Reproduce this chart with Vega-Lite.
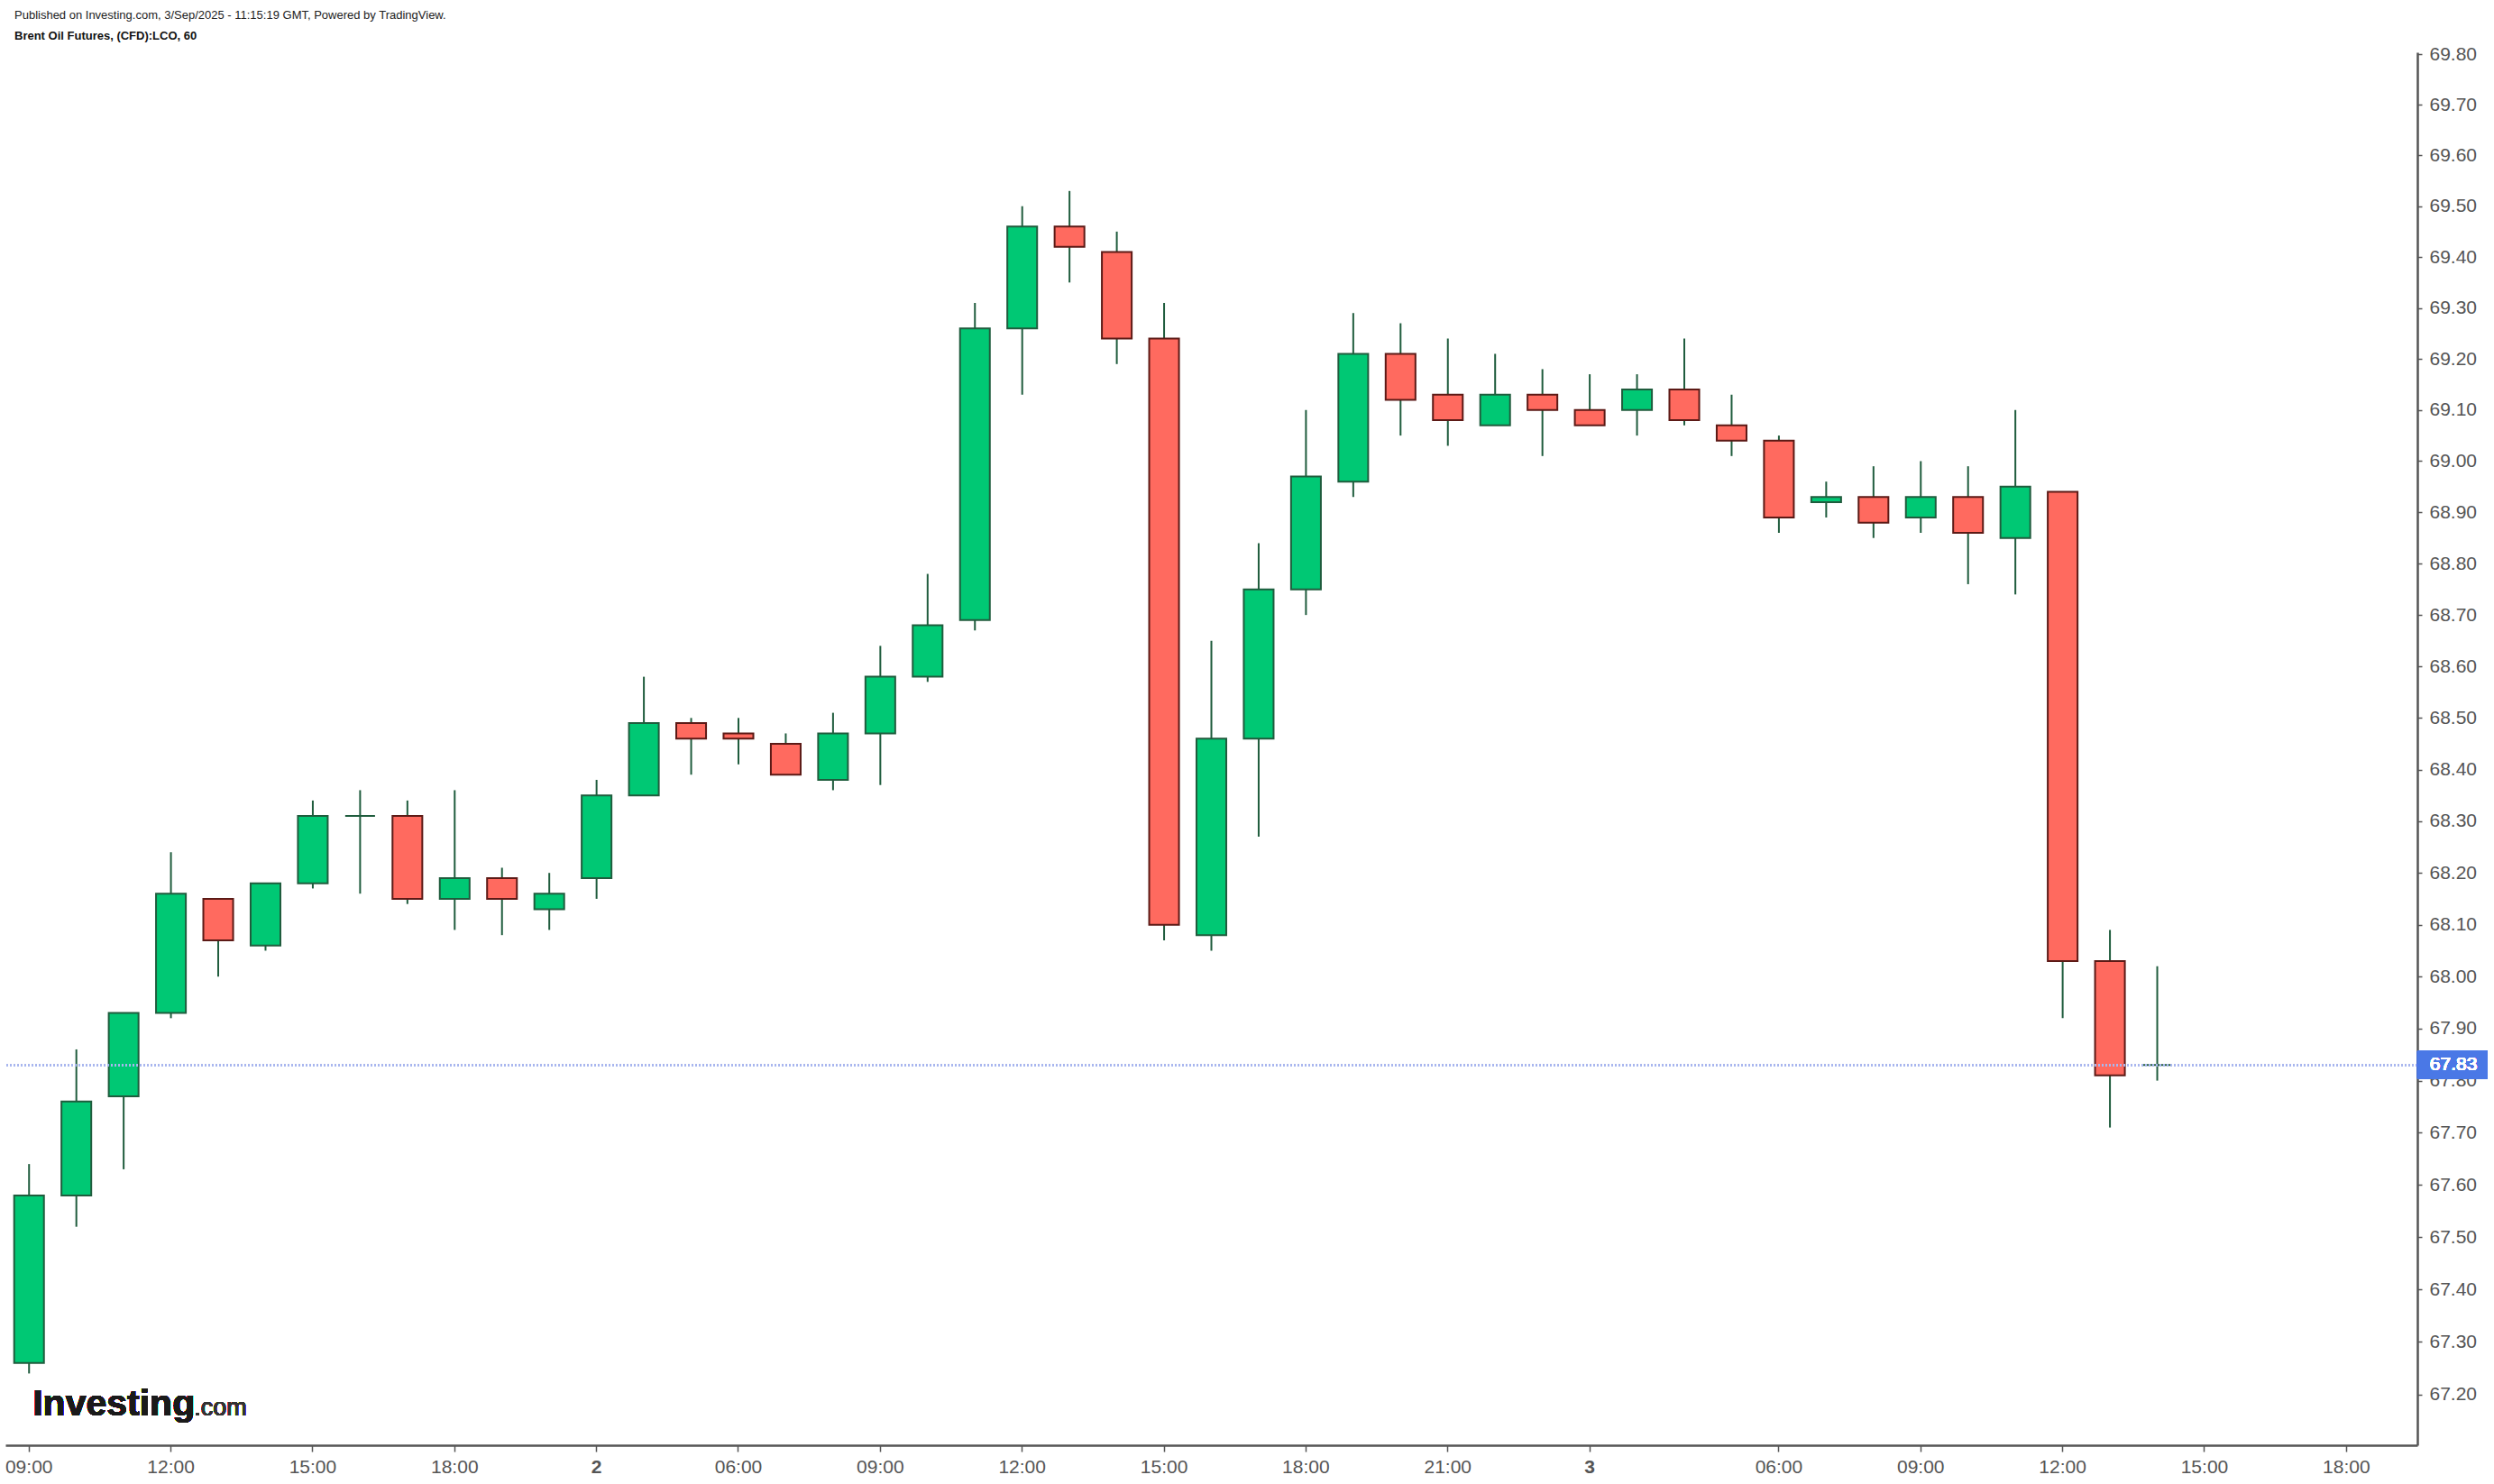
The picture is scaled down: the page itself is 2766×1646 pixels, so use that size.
{
  "$schema": "https://vega.github.io/schema/vega-lite/v6.json",
  "width": 2675,
  "height": 1545,
  "autosize": {"type": "none"},
  "padding": {"left": 6, "top": 58, "right": 85, "bottom": 43},
  "background": "white",
  "config": {"view": {"stroke": null}, "font": "Liberation Sans"},
  "title": {
    "text": "Published on Investing.com, 3/Sep/2025 - 11:15:19 GMT, Powered by TradingView.",
    "subtitle": "Brent Oil Futures, (CFD):LCO, 60",
    "anchor": "start",
    "frame": "group",
    "dx": 10,
    "offset": 2,
    "font": "Liberation Sans",
    "fontSize": 13,
    "fontWeight": "normal",
    "color": "#222222",
    "subtitleFont": "Liberation Sans",
    "subtitleFontSize": 13,
    "subtitleFontWeight": "bold",
    "subtitleColor": "#111111",
    "subtitlePadding": 10
  },
  "data": {
    "values": [
      {"t": "2025-09-01 09:00", "open": 67.26, "high": 67.64, "low": 67.24, "close": 67.58},
      {"t": "2025-09-01 10:00", "open": 67.58, "high": 67.86, "low": 67.52, "close": 67.76},
      {"t": "2025-09-01 11:00", "open": 67.77, "high": 67.93, "low": 67.63, "close": 67.93},
      {"t": "2025-09-01 12:00", "open": 67.93, "high": 68.24, "low": 67.92, "close": 68.16},
      {"t": "2025-09-01 13:00", "open": 68.15, "high": 68.15, "low": 68.00, "close": 68.07},
      {"t": "2025-09-01 14:00", "open": 68.06, "high": 68.18, "low": 68.05, "close": 68.18},
      {"t": "2025-09-01 15:00", "open": 68.18, "high": 68.34, "low": 68.17, "close": 68.31},
      {"t": "2025-09-01 16:00", "open": 68.31, "high": 68.36, "low": 68.16, "close": 68.31},
      {"t": "2025-09-01 17:00", "open": 68.31, "high": 68.34, "low": 68.14, "close": 68.15},
      {"t": "2025-09-01 18:00", "open": 68.15, "high": 68.36, "low": 68.09, "close": 68.19},
      {"t": "2025-09-01 19:00", "open": 68.19, "high": 68.21, "low": 68.08, "close": 68.15},
      {"t": "2025-09-01 20:00", "open": 68.13, "high": 68.20, "low": 68.09, "close": 68.16},
      {"t": "2025-09-02 03:00", "open": 68.19, "high": 68.38, "low": 68.15, "close": 68.35},
      {"t": "2025-09-02 04:00", "open": 68.35, "high": 68.58, "low": 68.35, "close": 68.49},
      {"t": "2025-09-02 05:00", "open": 68.49, "high": 68.50, "low": 68.39, "close": 68.46},
      {"t": "2025-09-02 06:00", "open": 68.47, "high": 68.50, "low": 68.41, "close": 68.46},
      {"t": "2025-09-02 07:00", "open": 68.45, "high": 68.47, "low": 68.39, "close": 68.39},
      {"t": "2025-09-02 08:00", "open": 68.38, "high": 68.51, "low": 68.36, "close": 68.47},
      {"t": "2025-09-02 09:00", "open": 68.47, "high": 68.64, "low": 68.37, "close": 68.58},
      {"t": "2025-09-02 10:00", "open": 68.58, "high": 68.78, "low": 68.57, "close": 68.68},
      {"t": "2025-09-02 11:00", "open": 68.69, "high": 69.31, "low": 68.67, "close": 69.26},
      {"t": "2025-09-02 12:00", "open": 69.26, "high": 69.50, "low": 69.13, "close": 69.46},
      {"t": "2025-09-02 13:00", "open": 69.46, "high": 69.53, "low": 69.35, "close": 69.42},
      {"t": "2025-09-02 14:00", "open": 69.41, "high": 69.45, "low": 69.19, "close": 69.24},
      {"t": "2025-09-02 15:00", "open": 69.24, "high": 69.31, "low": 68.07, "close": 68.10},
      {"t": "2025-09-02 16:00", "open": 68.08, "high": 68.65, "low": 68.05, "close": 68.46},
      {"t": "2025-09-02 17:00", "open": 68.46, "high": 68.84, "low": 68.27, "close": 68.75},
      {"t": "2025-09-02 18:00", "open": 68.75, "high": 69.10, "low": 68.70, "close": 68.97},
      {"t": "2025-09-02 19:00", "open": 68.96, "high": 69.29, "low": 68.93, "close": 69.21},
      {"t": "2025-09-02 20:00", "open": 69.21, "high": 69.27, "low": 69.05, "close": 69.12},
      {"t": "2025-09-02 21:00", "open": 69.13, "high": 69.24, "low": 69.03, "close": 69.08},
      {"t": "2025-09-02 22:00", "open": 69.07, "high": 69.21, "low": 69.07, "close": 69.13},
      {"t": "2025-09-02 23:00", "open": 69.13, "high": 69.18, "low": 69.01, "close": 69.10},
      {"t": "2025-09-03 02:00", "open": 69.10, "high": 69.17, "low": 69.07, "close": 69.07},
      {"t": "2025-09-03 03:00", "open": 69.10, "high": 69.17, "low": 69.05, "close": 69.14},
      {"t": "2025-09-03 04:00", "open": 69.14, "high": 69.24, "low": 69.07, "close": 69.08},
      {"t": "2025-09-03 05:00", "open": 69.07, "high": 69.13, "low": 69.01, "close": 69.04},
      {"t": "2025-09-03 06:00", "open": 69.04, "high": 69.05, "low": 68.86, "close": 68.89},
      {"t": "2025-09-03 07:00", "open": 68.92, "high": 68.96, "low": 68.89, "close": 68.93},
      {"t": "2025-09-03 08:00", "open": 68.93, "high": 68.99, "low": 68.85, "close": 68.88},
      {"t": "2025-09-03 09:00", "open": 68.89, "high": 69.00, "low": 68.86, "close": 68.93},
      {"t": "2025-09-03 10:00", "open": 68.93, "high": 68.99, "low": 68.76, "close": 68.86},
      {"t": "2025-09-03 11:00", "open": 68.85, "high": 69.10, "low": 68.74, "close": 68.95},
      {"t": "2025-09-03 12:00", "open": 68.94, "high": 68.94, "low": 67.92, "close": 68.03},
      {"t": "2025-09-03 13:00", "open": 68.03, "high": 68.09, "low": 67.71, "close": 67.81},
      {"t": "2025-09-03 14:00", "open": 67.83, "high": 68.02, "low": 67.80, "close": 67.83}
    ]
  },
  "encoding": {
    "x": {
      "field": "t",
      "type": "ordinal",
      "scale": {
        "domain": [
          "2025-09-01 09:00", "2025-09-01 10:00", "2025-09-01 11:00", "2025-09-01 12:00", "2025-09-01 13:00", "2025-09-01 14:00",
          "2025-09-01 15:00", "2025-09-01 16:00", "2025-09-01 17:00", "2025-09-01 18:00", "2025-09-01 19:00", "2025-09-01 20:00",
          "2025-09-02 03:00", "2025-09-02 04:00", "2025-09-02 05:00", "2025-09-02 06:00", "2025-09-02 07:00", "2025-09-02 08:00",
          "2025-09-02 09:00", "2025-09-02 10:00", "2025-09-02 11:00", "2025-09-02 12:00", "2025-09-02 13:00", "2025-09-02 14:00",
          "2025-09-02 15:00", "2025-09-02 16:00", "2025-09-02 17:00", "2025-09-02 18:00", "2025-09-02 19:00", "2025-09-02 20:00",
          "2025-09-02 21:00", "2025-09-02 22:00", "2025-09-02 23:00",
          "2025-09-03 02:00", "2025-09-03 03:00", "2025-09-03 04:00", "2025-09-03 05:00", "2025-09-03 06:00", "2025-09-03 07:00",
          "2025-09-03 08:00", "2025-09-03 09:00", "2025-09-03 10:00", "2025-09-03 11:00", "2025-09-03 12:00", "2025-09-03 13:00",
          "2025-09-03 14:00", "2025-09-03 15:00", "2025-09-03 16:00", "2025-09-03 17:00", "2025-09-03 18:00", "2025-09-03 19:00"
        ],
        "paddingInner": 0.37,
        "paddingOuter": 0.185
      },
      "axis": {
        "title": null,
        "values": [
          "2025-09-01 09:00", "2025-09-01 12:00", "2025-09-01 15:00", "2025-09-01 18:00",
          "2025-09-02 03:00", "2025-09-02 06:00", "2025-09-02 09:00", "2025-09-02 12:00", "2025-09-02 15:00",
          "2025-09-02 18:00", "2025-09-02 21:00",
          "2025-09-03 02:00", "2025-09-03 06:00", "2025-09-03 09:00", "2025-09-03 12:00", "2025-09-03 15:00", "2025-09-03 18:00"
        ],
        "labelExpr": "datum.value == '2025-09-02 03:00' ? '2' : datum.value == '2025-09-03 02:00' ? '3' : slice(datum.value, 11)",
        "labelFontWeight": {
          "condition": {"test": "datum.value == '2025-09-02 03:00' || datum.value == '2025-09-03 02:00'", "value": "bold"},
          "value": "normal"
        },
        "bandPosition": 0.5,
        "labelAngle": 0,
        "labelFontSize": 21,
        "labelColor": "#555555",
        "labelPadding": 6,
        "labelOverlap": false,
        "tickSize": 7,
        "tickWidth": 1.5,
        "tickColor": "#555555",
        "domainColor": "#555555",
        "domainWidth": 2.5,
        "grid": false,
        "zindex": 0
      }
    },
    "y": {
      "type": "quantitative",
      "scale": {"type": "log", "domain": [67.1035, 69.8036], "nice": false, "zero": false},
      "axis": {
        "orient": "right",
        "title": null,
        "values": [67.2, 67.3, 67.4, 67.5, 67.6, 67.7, 67.8, 67.9, 68.0, 68.1, 68.2, 68.3, 68.4, 68.5, 68.6, 68.7, 68.8, 68.9, 69.0, 69.1, 69.2, 69.3, 69.4, 69.5, 69.6, 69.7, 69.8],
        "format": ".2f",
        "labelFontSize": 21,
        "labelColor": "#555555",
        "labelPadding": 8,
        "tickSize": 5,
        "tickWidth": 1.5,
        "tickColor": "#555555",
        "domainColor": "#555555",
        "domainWidth": 2.5,
        "grid": false,
        "zindex": 0
      }
    }
  },
  "layer": [
    {
      "mark": {"type": "rule", "color": "#1F5C3D", "strokeWidth": 2},
      "encoding": {
        "y": {"field": "low", "type": "quantitative"},
        "y2": {"field": "high"}
      }
    },
    {
      "mark": {"type": "bar", "strokeWidth": 2},
      "encoding": {
        "y": {"field": "open", "type": "quantitative"},
        "y2": {"field": "close"},
        "fill": {
          "condition": {"test": "datum.close >= datum.open", "value": "#00C874"},
          "value": "#FF6A5F"
        },
        "stroke": {
          "condition": {"test": "datum.close >= datum.open", "value": "#1F5C3D"},
          "value": "#5C1A16"
        }
      }
    },
    {
      "mark": {"type": "rule", "color": "#A9B7EE", "strokeWidth": 2, "strokeDash": [2, 2]},
      "encoding": {
        "x": null,
        "y": {"datum": 67.83, "type": "quantitative"}
      }
    },
    {
      "mark": {
        "type": "point",
        "shape": "M0.262,-0.155L1.042,-0.155L1.042,0.155L0.262,0.155Z",
        "size": 40000,
        "filled": true,
        "opacity": 1,
        "color": "#4A78E6",
        "strokeWidth": 0
      },
      "encoding": {
        "x": {"datum": "2025-09-03 19:00", "type": "ordinal"},
        "y": {"datum": 67.83, "type": "quantitative"}
      }
    },
    {
      "mark": {"type": "text", "text": "67.83", "color": "white", "fontSize": 21, "align": "left", "baseline": "middle", "dx": 40},
      "encoding": {
        "x": {"datum": "2025-09-03 19:00", "type": "ordinal"},
        "y": {"datum": 67.83, "type": "quantitative"}
      }
    },
    {
      "mark": {"type": "text", "text": "Investing", "color": "#1A1A1A", "fontSize": 41, "fontWeight": "bold", "align": "left", "baseline": "alphabetic", "dx": 4},
      "encoding": {
        "x": {"datum": "2025-09-01 09:00", "type": "ordinal"},
        "y": {"datum": 67.16, "type": "quantitative"}
      }
    },
    {
      "mark": {"type": "text", "text": ".com", "color": "#333333", "fontSize": 27, "align": "left", "baseline": "alphabetic", "dx": 183},
      "encoding": {
        "x": {"datum": "2025-09-01 09:00", "type": "ordinal"},
        "y": {"datum": 67.16, "type": "quantitative"}
      }
    }
  ]
}
